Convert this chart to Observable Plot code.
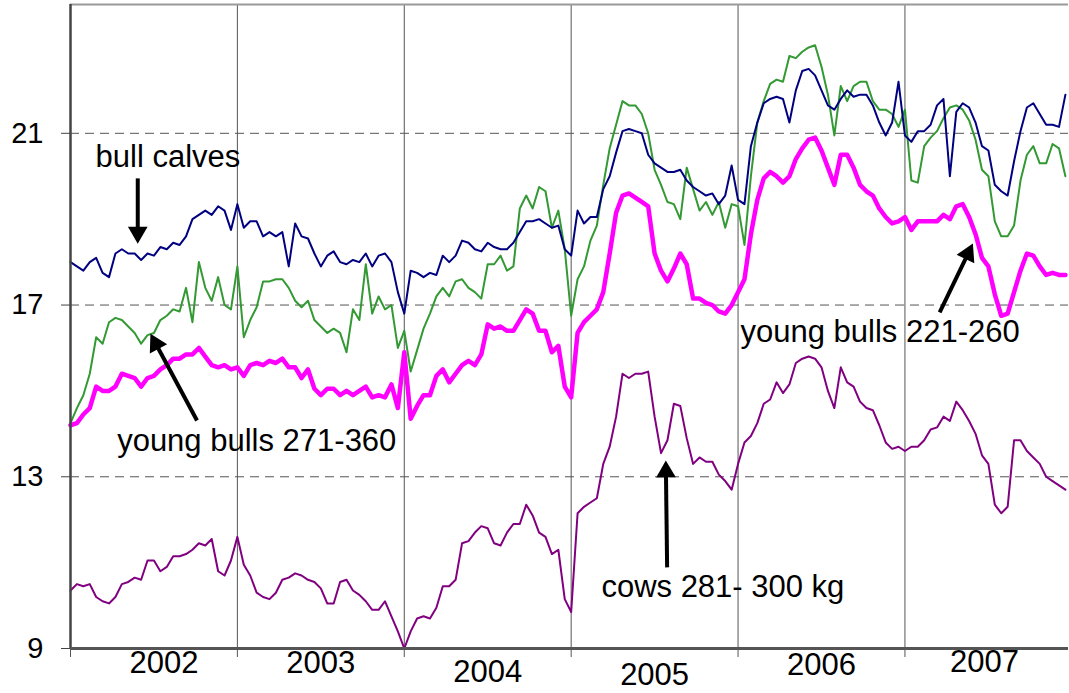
<!DOCTYPE html>
<html>
<head>
<meta charset="utf-8">
<script src="https://cdn.jsdelivr.net/npm/d3@7"></script>
<script src="https://cdn.jsdelivr.net/npm/@observablehq/plot@0.6"></script>
<style>
  html, body { margin: 0; padding: 0; background: #fff; }
  #chart svg { display: block; }
</style>
</head>
<body>
<div id="chart"></div>
<script>
// ---------------- data ----------------
const startYear = 2002;
const samplesPerYear = 26;            // one value every two weeks
const years = [2002, 2003, 2004, 2005, 2006, 2007];
const yearLabels = ["2002", "2003", "2004", "2005", "2006", "2007"];
const yTicks = [9, 13, 17, 21];

const bullCalves = [
  18.0, 17.9, 17.8, 18.0, 18.1, 17.75, 17.65, 18.2, 18.3, 18.2, 18.2, 18.05, 18.2, 18.15, 18.35, 18.3, 18.45, 18.4, 18.6, 19.0, 19.1, 19.2, 19.1, 19.3, 19.2, 18.75,
  19.35, 18.8, 18.95, 18.95, 18.6, 18.7, 18.6, 18.7, 17.9, 18.9, 18.6, 18.55, 18.2, 17.9, 18.15, 18.25, 18.0, 17.95, 18.05, 18.0, 18.2, 17.9, 18.15, 18.2, 18.0, 17.3,
  16.8, 17.8, 17.75, 17.65, 17.75, 17.7, 18.15, 18.0, 18.15, 18.5, 18.45, 18.3, 18.25, 18.45, 18.35, 18.3, 18.3, 18.45, 18.7, 18.95, 18.95, 19.0, 18.9, 18.8, 18.85, 18.3,
  18.15, 19.2, 18.9, 19.05, 19.05, 19.7, 20.0, 20.55, 21.05, 21.1, 21.05, 21.0, 20.5, 20.3, 20.2, 20.1, 20.1, 20.15, 19.9, 19.75, 19.65, 19.55, 19.6, 19.35, 19.55, 20.25,
  19.45, 19.35, 20.7, 21.25, 21.7, 21.8, 21.85, 21.8, 21.25, 22.0, 22.45, 22.5, 22.35, 22.0, 21.65, 21.55, 21.8, 22.0, 21.85, 21.9, 21.9, 21.65, 21.25, 20.95, 21.25, 22.2,
  20.95, 20.8, 21.05, 21.05, 21.2, 21.65, 21.8, 20.0, 21.5, 21.7, 21.6, 21.25, 20.7, 20.6, 19.8, 19.65, 19.55, 20.35, 21.05, 21.6, 21.7, 21.45, 21.2, 21.2, 21.15, 21.9
];

const youngBulls271 = [
  14.25, 14.6, 14.9, 15.4, 16.25, 16.1, 16.6, 16.7, 16.65, 16.5, 16.35, 16.1, 16.3, 16.35, 16.65, 16.75, 16.9, 16.85, 17.4, 16.6, 18.0, 17.4, 17.1, 17.65, 17.0, 16.9,
  17.9, 16.25, 16.65, 16.95, 17.55, 17.55, 17.6, 17.6, 17.4, 17.1, 16.95, 17.1, 16.65, 16.5, 16.35, 16.45, 16.35, 15.9, 16.9, 16.65, 17.95, 16.8, 17.2, 16.9, 17.0, 16.0,
  16.4, 15.45, 15.95, 16.45, 16.8, 17.2, 17.4, 17.2, 17.55, 17.6, 17.4, 17.3, 17.15, 17.95, 17.95, 18.15, 17.8, 17.9, 19.25, 19.55, 19.25, 19.75, 19.65, 18.8, 19.2, 18.3,
  16.75, 17.6, 17.9, 18.5, 18.85, 19.8, 20.65, 21.2, 21.75, 21.65, 21.65, 21.45, 21.0, 20.15, 19.8, 19.4, 19.35, 19.0, 20.2, 19.7, 19.2, 19.4, 19.1, 19.4, 18.8, 19.35,
  19.3, 18.4, 20.0, 21.25, 21.75, 22.15, 22.25, 22.2, 22.8, 22.75, 22.9, 23.0, 23.05, 22.55, 21.9, 20.95, 22.1, 21.75, 22.1, 22.2, 22.2, 21.75, 21.55, 21.55, 21.45, 21.15,
  21.55, 19.9, 19.85, 20.7, 20.9, 21.05, 21.35, 21.6, 21.65, 21.55, 21.3, 20.85, 20.15, 20.0, 18.95, 18.6, 18.6, 18.85, 19.9, 20.5, 20.7, 20.3, 20.3, 20.75, 20.65, 20.0
];

const youngBulls221 = [
  14.2, 14.25, 14.45, 14.6, 15.1, 15.0, 15.0, 15.1, 15.4, 15.35, 15.3, 15.1, 15.3, 15.35, 15.5, 15.6, 15.75, 15.75, 15.85, 15.85, 16.0, 15.8, 15.6, 15.55, 15.6, 15.5,
  15.55, 15.35, 15.6, 15.65, 15.6, 15.7, 15.65, 15.75, 15.55, 15.55, 15.3, 15.5, 15.05, 14.9, 15.05, 15.05, 14.9, 15.0, 14.9, 15.0, 15.1, 14.85, 14.9, 14.85, 15.15, 14.6,
  15.9, 14.35, 14.65, 14.9, 14.9, 15.35, 15.5, 15.2, 15.4, 15.6, 15.7, 15.6, 15.85, 16.55, 16.45, 16.5, 16.4, 16.4, 16.65, 16.9, 16.8, 16.4, 16.4, 15.9, 16.05, 15.1,
  14.85, 16.35, 16.6, 16.75, 16.9, 17.3, 18.2, 19.15, 19.55, 19.6, 19.5, 19.4, 19.3, 18.2, 17.8, 17.55, 17.85, 18.2, 17.95, 17.15, 17.15, 17.05, 17.0, 16.85, 16.8, 17.0,
  17.3, 17.6, 18.65, 19.45, 19.95, 20.1, 20.0, 19.85, 20.0, 20.4, 20.65, 20.85, 20.9, 20.6, 20.2, 19.8, 20.5, 20.5, 20.2, 19.8, 19.65, 19.55, 19.25, 19.05, 18.9, 18.95,
  19.05, 18.75, 18.95, 18.95, 18.95, 18.95, 19.1, 19.0, 19.3, 19.35, 19.05, 18.65, 18.1, 17.9, 17.25, 16.75, 16.8, 17.3, 17.8, 18.2, 18.15, 17.9, 17.7, 17.75, 17.7, 17.7
];

const cows281 = [
  10.35, 10.5, 10.45, 10.5, 10.2, 10.1, 10.05, 10.2, 10.5, 10.55, 10.65, 10.6, 11.05, 11.05, 10.8, 10.9, 11.15, 11.15, 11.2, 11.3, 11.45, 11.4, 11.55, 10.8, 10.7, 11.05,
  11.6, 10.95, 10.7, 10.3, 10.2, 10.15, 10.3, 10.6, 10.65, 10.75, 10.7, 10.6, 10.55, 10.4, 10.05, 10.05, 10.55, 10.6, 10.35, 10.25, 10.1, 9.9, 9.9, 10.1, 9.75, 9.4,
  9.0, 9.4, 9.7, 9.75, 9.7, 9.95, 10.45, 10.45, 10.6, 11.45, 11.5, 11.7, 11.85, 11.8, 11.45, 11.4, 11.7, 11.9, 11.9, 12.35, 12.1, 11.7, 11.6, 11.2, 11.3, 10.15,
  9.85, 12.15, 12.3, 12.4, 12.5, 13.3, 13.7, 14.4, 15.4, 15.3, 15.4, 15.4, 15.45, 14.4, 13.55, 13.85, 14.7, 14.65, 13.9, 13.3, 13.45, 13.35, 13.35, 13.05, 12.9, 12.7,
  13.3, 13.8, 13.95, 14.25, 14.7, 14.8, 15.2, 14.95, 15.15, 15.65, 15.75, 15.8, 15.75, 15.55, 15.0, 14.6, 15.55, 15.2, 15.1, 14.75, 14.6, 14.55, 14.2, 13.8, 13.65, 13.7,
  13.6, 13.7, 13.7, 13.85, 14.1, 14.15, 14.4, 14.3, 14.75, 14.55, 14.3, 14.0, 13.5, 13.3, 12.35, 12.15, 12.3, 13.85, 13.85, 13.6, 13.45, 13.3, 13.0, 12.9, 12.8, 12.7
];

// annotation texts and where they sit (year, price)
const labelTexts = ["bull calves", "young bulls 271-360", "young bulls 221-260", "cows 281- 300 kg"];
const labelYears = [2002.584, 2003.116, 2006.851, 2005.909];
const labelValues = [20.21, 13.60, 16.13, 10.19];
const arrowFromYears = [2002.403, 2002.758, 2007.208, 2005.575];
const arrowFromValues = [19.95, 14.31, 16.83, 10.89];
const arrowToYears = [2002.403, 2002.479, 2007.407, 2005.567];
const arrowToValues = [18.43, 16.33, 18.43, 13.38];

// ---------------- layout / style ----------------
const W = 1069, H = 693;
const mL = 70, mR = 1, mT = 4, mB = 45;
const xDomain = [2002, 2007.98];
const yDomain = [9, 24];
const textFont = "'Liberation Sans', Arial, Helvetica, sans-serif";
const yearDy = [15, 15, 24, 27, 17, 14];
const yearDx = [10, 0, 0, 0, 0, -4];

const xAt = (d, i) => startYear + i / samplesPerYear;

// arrowheads computed through Plot's own scales
const xs = Plot.scale({x: {domain: xDomain, range: [mL, W - mR]}});
const ys = Plot.scale({y: {domain: yDomain, range: [H - mB, mT]}});
const headLen = 17;
const arrows = labelTexts.map((_, i) => {
  const x0 = xs.apply(arrowFromYears[i]), y0 = ys.apply(arrowFromValues[i]);
  const x1 = xs.apply(arrowToYears[i]), y1 = ys.apply(arrowToValues[i]);
  const len = Math.hypot(x1 - x0, y1 - y0);
  const ux = (x1 - x0) / len, uy = (y1 - y0) / len;
  const cx = x1 - ux * headLen * 2 / 3, cy = y1 - uy * headLen * 2 / 3;
  const sx = x1 - ux * headLen * 0.8, sy = y1 - uy * headLen * 0.8;
  return {
    fromX: arrowFromYears[i], fromY: arrowFromValues[i],
    shaftX: xs.invert(sx), shaftY: ys.invert(sy),
    headX: xs.invert(cx), headY: ys.invert(cy),
    angle: Math.atan2(ux, -uy) * 180 / Math.PI
  };
});

const seriesMarks = [
  {values: youngBulls271, color: "#339933", width: 2},
  {values: bullCalves, color: "#000080", width: 2},
  {values: youngBulls221, color: "#ff00ff", width: 4.5},
  {values: cows281, color: "#800080", width: 2}
].map(s => Plot.line(s.values, {x: xAt, y: d => d, stroke: s.color, strokeWidth: s.width, strokeLinejoin: "round"}));

const chart = Plot.plot({
  width: W,
  height: H,
  marginLeft: mL,
  marginRight: mR,
  marginTop: mT,
  marginBottom: mB,
  x: {domain: xDomain, axis: null},
  y: {domain: yDomain, axis: null},
  style: {background: "#fff"},
  marks: [
    // horizontal dashed grid
    Plot.ruleY(yTicks.slice(1), {stroke: "#555", strokeWidth: 1, strokeDasharray: "9,6"}),
    // year boundaries
    Plot.ruleX(years.slice(1), {stroke: "#555", strokeWidth: 1}),
    // top border
    Plot.ruleY([yDomain[1]], {stroke: "#999", strokeWidth: 2}),
    // series
    ...seriesMarks,
    // axes lines and ticks
    Plot.axisX(years, {tickSize: 9, tickFormat: () => "", stroke: "#555", label: null}),
    Plot.axisY(yTicks, {tickSize: 9, tickFormat: () => "", stroke: "#444", label: null}),
    Plot.ruleX([xDomain[0]], {stroke: "#444", strokeWidth: 2.5}),
    Plot.ruleY([yDomain[0]], {stroke: "#555", strokeWidth: 3}),
    // y tick labels
    Plot.text(yTicks, {y: d => d, text: d => String(d), frameAnchor: "left", textAnchor: "end", dx: -27, fontSize: 29, fontFamily: textFont, fill: "#000"}),
    // year labels
    ...years.map((yr, i) => Plot.text([yr], {x: d => d + 0.5, text: [yearLabels[i]], frameAnchor: "bottom", lineAnchor: "middle", dy: yearDy[i], dx: yearDx[i], fontSize: 31, fontFamily: textFont, fill: "#000"})),
    // annotations
    Plot.link(arrows, {x1: "fromX", y1: "fromY", x2: "shaftX", y2: "shaftY", stroke: "#000", strokeWidth: 4}),
    Plot.dot(arrows, {x: "headX", y: "headY", symbol: "triangle", r: 7.3, rotate: "angle", fill: "#000", stroke: "none"}),
    Plot.text(labelTexts, {x: (d, i) => labelYears[i], y: (d, i) => labelValues[i], text: d => d, textAnchor: "middle", lineAnchor: "bottom", fontSize: 31, fontFamily: textFont, fill: "#000"})
  ]
});

document.getElementById("chart").appendChild(chart);
</script>
</body>
</html>
